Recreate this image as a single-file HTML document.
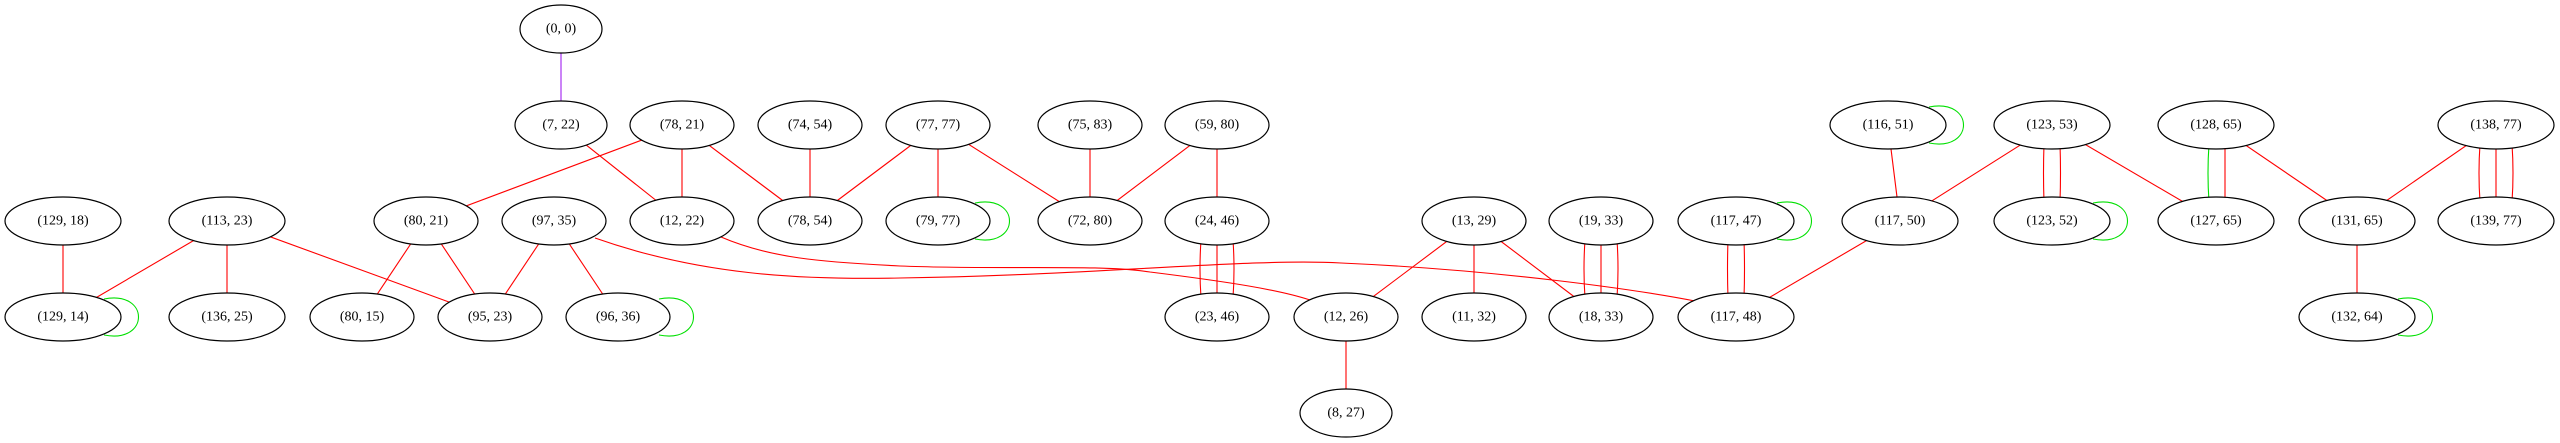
<!DOCTYPE html>
<html><head><meta charset="utf-8"><style>
html,body{margin:0;padding:0;background:#fff;}
svg{display:block;}
text{font-family:"Liberation Serif",serif;font-size:14px;text-anchor:middle;dominant-baseline:central;fill:#000;}
ellipse{fill:#fff;stroke:#000;stroke-width:1.2;}
.r{stroke:#ff0000;stroke-width:1.1;fill:none;}
.g{stroke:#00e000;stroke-width:1.1;fill:none;}
</style></head><body>
<svg width="2560" height="443" viewBox="0 0 2560 443" xmlns="http://www.w3.org/2000/svg">
<!-- edges -->
<line x1="561" y1="29" x2="561" y2="125" stroke="#a020f0" stroke-width="1.1"/>
<g class="r">
<line x1="561" y1="125" x2="682" y2="221"/>
<line x1="682" y1="125" x2="426" y2="221"/>
<line x1="682" y1="125" x2="682" y2="221"/>
<line x1="682" y1="125" x2="810" y2="221"/>
<line x1="810" y1="125" x2="810" y2="221"/>
<line x1="938" y1="125" x2="810" y2="221"/>
<line x1="938" y1="125" x2="938" y2="221"/>
<line x1="938" y1="125" x2="1090" y2="221"/>
<line x1="1090" y1="125" x2="1090" y2="221"/>
<line x1="1217" y1="125" x2="1090" y2="221"/>
<line x1="1217" y1="125" x2="1217" y2="221"/>
<line x1="63" y1="221" x2="63" y2="317"/>
<line x1="227" y1="221" x2="63" y2="317"/>
<line x1="227" y1="221" x2="227" y2="317"/>
<line x1="227" y1="221" x2="490" y2="317"/>
<line x1="426" y1="221" x2="362" y2="317"/>
<line x1="426" y1="221" x2="490" y2="317"/>
<line x1="554" y1="221" x2="490" y2="317"/>
<line x1="554" y1="221" x2="618" y2="317"/>
<path d="M1201,240 Q1199,269 1201,298"/>
<line x1="1217" y1="221" x2="1217" y2="317"/>
<path d="M1233,240 Q1235,269 1233,298"/>
<line x1="1474" y1="221" x2="1346" y2="317"/>
<line x1="1474" y1="221" x2="1474" y2="317"/>
<line x1="1474" y1="221" x2="1601" y2="317"/>
<line x1="1346" y1="317" x2="1346" y2="413"/>
<path d="M1585,240 Q1583,269 1585,298"/>
<line x1="1601" y1="221" x2="1601" y2="317"/>
<path d="M1617,240 Q1619,269 1617,298"/>
<path d="M1728,240 Q1727,269 1728,298"/>
<path d="M1744,240 Q1745,269 1744,298"/>
<line x1="1888" y1="125" x2="1900" y2="221"/>
<line x1="2052" y1="125" x2="1900" y2="221"/>
<path d="M2044,144 Q2043,173 2044,202"/>
<path d="M2060,144 Q2061,173 2060,202"/>
<line x1="2052" y1="125" x2="2216" y2="221"/>
<line x1="2225" y1="144" x2="2225" y2="202"/>
<line x1="2216" y1="125" x2="2357" y2="221"/>
<line x1="2496" y1="125" x2="2357" y2="221"/>
<path d="M2480,144 Q2478,173 2480,202"/>
<line x1="2496" y1="125" x2="2496" y2="221"/>
<path d="M2512,144 Q2514,173 2512,202"/>
<line x1="2357" y1="221" x2="2357" y2="317"/>
<line x1="1900" y1="221" x2="1736" y2="317"/>
<path d="M595,238 C700,275 800,280 900,278 C1100,275 1250,258 1341,263 C1500,270 1640,290 1700,302"/>
<path d="M721,237 C770,258 820,262 900,266 C1000,270 1100,264 1150,272 C1230,282 1280,290 1310,300"/>
</g>
<path class="g" d="M2209,144 Q2207,173 2209,202"/>
<!-- loops -->
<g class="g">
<path d="M104,299 C150,290 150,344 104,335"/>
<path d="M659,299 C705,290 705,344 659,335"/>
<path d="M975,203 C1021,194 1021,248 975,239"/>
<path d="M1929,107 C1975,98 1975,152 1929,143"/>
<path d="M1777,203 C1823,194 1823,248 1777,239"/>
<path d="M2093,203 C2139,194 2139,248 2093,239"/>
<path d="M2398,299 C2444,290 2444,344 2398,335"/>
</g>
<!-- nodes -->
<ellipse cx="561" cy="29" rx="41" ry="24"/><text x="561" y="29">(0, 0)</text>
<ellipse cx="561" cy="125" rx="46" ry="24"/><text x="561" y="125">(7, 22)</text>
<ellipse cx="682" cy="125" rx="52" ry="24"/><text x="682" y="125">(78, 21)</text>
<ellipse cx="810" cy="125" rx="52" ry="24"/><text x="810" y="125">(74, 54)</text>
<ellipse cx="938" cy="125" rx="52" ry="24"/><text x="938" y="125">(77, 77)</text>
<ellipse cx="1090" cy="125" rx="52" ry="24"/><text x="1090" y="125">(75, 83)</text>
<ellipse cx="1217" cy="125" rx="52" ry="24"/><text x="1217" y="125">(59, 80)</text>
<ellipse cx="1888" cy="125" rx="58" ry="24"/><text x="1888" y="125">(116, 51)</text>
<ellipse cx="2052" cy="125" rx="58" ry="24"/><text x="2052" y="125">(123, 53)</text>
<ellipse cx="2216" cy="125" rx="58" ry="24"/><text x="2216" y="125">(128, 65)</text>
<ellipse cx="2496" cy="125" rx="58" ry="24"/><text x="2496" y="125">(138, 77)</text>

<ellipse cx="63" cy="221" rx="58" ry="24"/><text x="63" y="221">(129, 18)</text>
<ellipse cx="227" cy="221" rx="58" ry="24"/><text x="227" y="221">(113, 23)</text>
<ellipse cx="426" cy="221" rx="52" ry="24"/><text x="426" y="221">(80, 21)</text>
<ellipse cx="554" cy="221" rx="52" ry="24"/><text x="554" y="221">(97, 35)</text>
<ellipse cx="682" cy="221" rx="52" ry="24"/><text x="682" y="221">(12, 22)</text>
<ellipse cx="810" cy="221" rx="52" ry="24"/><text x="810" y="221">(78, 54)</text>
<ellipse cx="938" cy="221" rx="52" ry="24"/><text x="938" y="221">(79, 77)</text>
<ellipse cx="1090" cy="221" rx="52" ry="24"/><text x="1090" y="221">(72, 80)</text>
<ellipse cx="1217" cy="221" rx="52" ry="24"/><text x="1217" y="221">(24, 46)</text>
<ellipse cx="1474" cy="221" rx="52" ry="24"/><text x="1474" y="221">(13, 29)</text>
<ellipse cx="1601" cy="221" rx="52" ry="24"/><text x="1601" y="221">(19, 33)</text>
<ellipse cx="1736" cy="221" rx="58" ry="24"/><text x="1736" y="221">(117, 47)</text>
<ellipse cx="1900" cy="221" rx="58" ry="24"/><text x="1900" y="221">(117, 50)</text>
<ellipse cx="2052" cy="221" rx="58" ry="24"/><text x="2052" y="221">(123, 52)</text>
<ellipse cx="2216" cy="221" rx="58" ry="24"/><text x="2216" y="221">(127, 65)</text>
<ellipse cx="2357" cy="221" rx="58" ry="24"/><text x="2357" y="221">(131, 65)</text>
<ellipse cx="2496" cy="221" rx="58" ry="24"/><text x="2496" y="221">(139, 77)</text>

<ellipse cx="63" cy="317" rx="58" ry="24"/><text x="63" y="317">(129, 14)</text>
<ellipse cx="227" cy="317" rx="58" ry="24"/><text x="227" y="317">(136, 25)</text>
<ellipse cx="362" cy="317" rx="52" ry="24"/><text x="362" y="317">(80, 15)</text>
<ellipse cx="490" cy="317" rx="52" ry="24"/><text x="490" y="317">(95, 23)</text>
<ellipse cx="618" cy="317" rx="52" ry="24"/><text x="618" y="317">(96, 36)</text>
<ellipse cx="1217" cy="317" rx="52" ry="24"/><text x="1217" y="317">(23, 46)</text>
<ellipse cx="1346" cy="317" rx="52" ry="24"/><text x="1346" y="317">(12, 26)</text>
<ellipse cx="1474" cy="317" rx="52" ry="24"/><text x="1474" y="317">(11, 32)</text>
<ellipse cx="1601" cy="317" rx="52" ry="24"/><text x="1601" y="317">(18, 33)</text>
<ellipse cx="1736" cy="317" rx="58" ry="24"/><text x="1736" y="317">(117, 48)</text>
<ellipse cx="2357" cy="317" rx="58" ry="24"/><text x="2357" y="317">(132, 64)</text>

<ellipse cx="1346" cy="413" rx="46" ry="24"/><text x="1346" y="413">(8, 27)</text>
</svg>
</body></html>
